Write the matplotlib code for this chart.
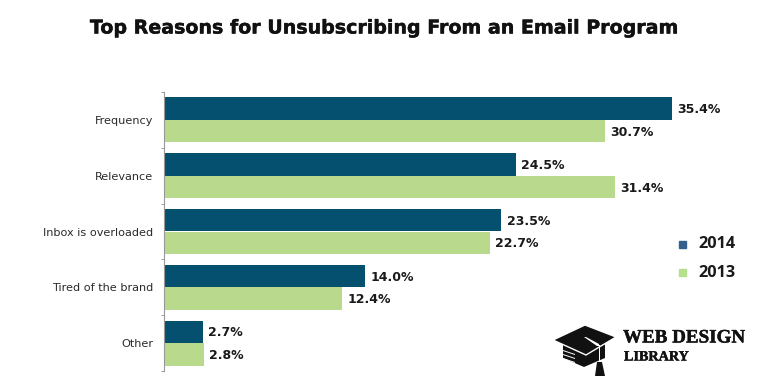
import numpy as np
import matplotlib
matplotlib.use('Agg')
import matplotlib.pyplot as plt
import matplotlib.patheffects as pe
from matplotlib.patches import Polygon, Rectangle

categories = ['Frequency', 'Relevance', 'Inbox is overloaded', 'Tired of the brand', 'Other']
values_2014 = [35.4, 24.5, 23.5, 14.0, 2.7]
values_2013 = [30.7, 31.4, 22.7, 12.4, 2.8]
W, H = 770, 392
DARK = '#05506f'
LIGHT = '#b9da8d'

fig = plt.figure(figsize=(W / 100, H / 100), dpi=100)
ax = fig.add_axes([164 / W, 1 - 371 / H, 530 / W, 279 / H])

y = np.arange(len(categories))
bar_h = 0.405
ax.barh(y - bar_h / 2, values_2014, bar_h, color=DARK, label='2014')
ax.barh(y + bar_h / 2, values_2013, bar_h, color=LIGHT, label='2013')

ax.set_xlim(0, 530 / (672 - 164) * 35.4)
ax.set_ylim(4.5, -0.5)
ax.set_yticks(y)
ax.set_yticklabels(categories, fontsize=8.1, color='#2a2a2a')
ax.set_yticks(np.arange(-0.5, 5), minor=True)
ax.set_xticks([])
for s in ['top', 'right', 'bottom']:
    ax.spines[s].set_visible(False)
ax.spines['left'].set_color('#999999')
ax.tick_params(axis='y', which='major', length=0, pad=7.5)
ax.tick_params(axis='y', which='minor', length=2.5, width=0.7, color='#999999')

for i in y:
    ax.annotate(f'{values_2014[i]:.1f}%', (values_2014[i], i - bar_h / 2), xytext=(3.8, -0.8),
                textcoords='offset points', va='center', fontsize=9, fontweight='bold', color='#1a1a1a')
    ax.annotate(f'{values_2013[i]:.1f}%', (values_2013[i], i + bar_h / 2), xytext=(3.8, -0.8),
                textcoords='offset points', va='center', fontsize=9, fontweight='bold', color='#1a1a1a')

title = fig.text(384.5 / W, 1 - 28 / H, 'Top Reasons for Unsubscribing From an Email Program',
                 ha='center', va='center', fontsize=13.7, fontweight='bold', color='#111111')
title.set_path_effects([pe.withStroke(linewidth=0.3, foreground='#111111')])

# legend
fig.patches.append(Rectangle((678.5 / W, 1 - 247.5 / H), 7 / W, 7 / H, transform=fig.transFigure, color='#33608f'))
fig.patches.append(Rectangle((678.5 / W, 1 - 276 / H), 7 / W, 7 / H, transform=fig.transFigure, color='#b5e08c'))
fig.text(698 / W, 1 - 244 / H, '2014', va='center', fontsize=11.7, fontweight='bold',
         family='Open Sans', color='#1a1a1a')
fig.text(698 / W, 1 - 273 / H, '2013', va='center', fontsize=11.7, fontweight='bold',
         family='Open Sans', color='#1a1a1a')


def logo_poly(pts, color='#111111', edge='none'):
    fig.patches.append(Polygon([(px / W, 1 - py / H) for px, py in pts], closed=True,
                               transform=fig.transFigure, facecolor=color, edgecolor=edge, linewidth=1))


# logo: book-like base, cap, cord and tassel
logo_poly([(563, 344), (586, 352), (605, 344), (605, 358), (584, 367), (563, 358)])
for sy in (350, 354, 358):
    logo_poly([(563, sy), (575, sy + 4), (575, sy + 5), (563, sy + 1)], '#ffffff')
logo_poly([(553, 340), (585, 325), (616, 337), (586, 355)], edge='#ffffff')
logo_poly([(584, 337), (586, 337), (599, 344), (599, 346), (597, 346)], '#ffffff')
logo_poly([(598.5, 345), (600, 345), (600, 363), (598.5, 363)], '#ffffff')
logo_poly([(597, 362), (602, 362), (605, 376), (595, 376)])

for tx, ty, label, size in ((623, 338, 'WEB DESIGN', 13.7), (624, 357, 'LIBRARY', 10.2)):
    t = fig.text(tx / W, 1 - ty / H, label, va='center', fontsize=size, fontweight='bold',
                 family='Liberation Serif', color='#111111')
    t.set_path_effects([pe.withStroke(linewidth=0.3, foreground='#111111')])

fig.savefig('out.png', dpi=100)
